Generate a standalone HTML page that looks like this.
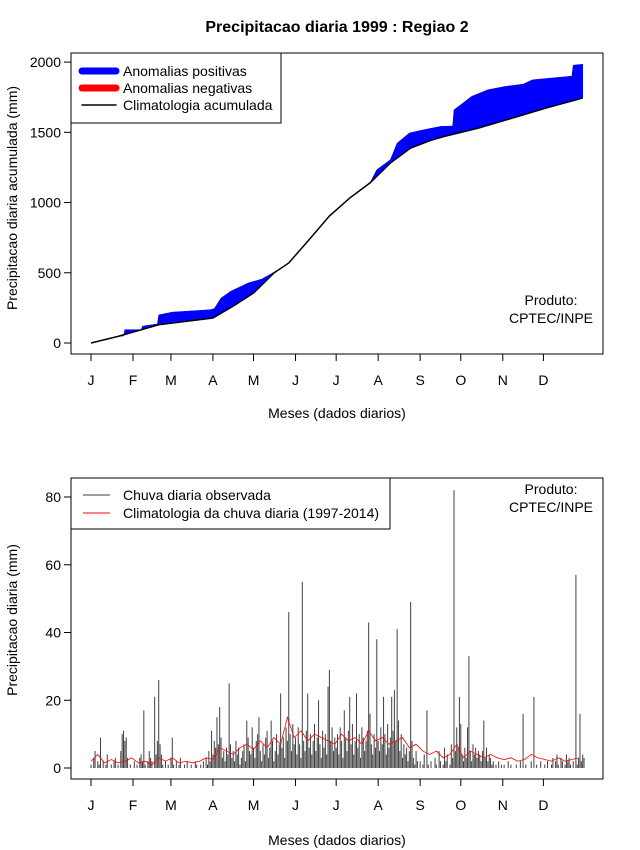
<!DOCTYPE html>
<html><head><meta charset="utf-8">
<style>
html,body{margin:0;padding:0;background:#fff;}
svg{display:block;font-family:"Liberation Sans",Arial,sans-serif;}
</style></head>
<body>
<svg id="chart" width="640" height="850" viewBox="0 0 640 850" xmlns="http://www.w3.org/2000/svg">
<rect width="640" height="850" fill="#fff"/>
<text x="337" y="32" text-anchor="middle" font-size="16" font-weight="bold">Precipitacao diaria 1999 : Regiao 2</text>
<g id="topPanel"></g>
<g id="botPanel"></g>
</svg>
<script>
// ---------- DATA ----------
const monthLabels = ["J","F","M","A","M","J","J","A","S","O","N","D"];
const monthStartDays = [1,32,60,91,121,152,182,213,244,274,305,335];
const topYTicks = [0,500,1000,1500,2000];
const botYTicks = [0,20,40,60,80];
// cumulative climatology (day, mm)
const climCumDays = [1,21,51,91,106,121,136,147,162,177,192,207,222,237,252,262,287,312,337,364];
const climCumVals = [0,47,130,178,263,356,498,570,735,904,1032,1140,1281,1388,1443,1471,1530,1601,1673,1744];
// cumulative observed (day, mm)
const obsCumDays = [1,21,25,26,38,39,46,50,51,61,89,92,97,104,117,127,135,147,162,177,192,207,212,222,227,236,247,259,268,269,282,294,307,320,327,356,357,364];
const obsCumVals = [0,47,50,95,95,120,130,135,200,220,237,245,320,368,427,455,498,570,735,904,1032,1140,1234,1305,1423,1495,1519,1542,1545,1660,1756,1803,1827,1843,1874,1900,1978,1985];
// daily observed rainfall (mm), day 1..365
const dailyObs = [
1,0,3,5,0,2,1,9,0,2,0,1,4,0,0,1,0,2,3,0,1,0,5,10,11,8,9,3,0,1,0,
0,2,0,1,0,3,4,2,17,1,0,2,5,3,2,0,21,4,8,26,7,4,1,0,2,0,1,0,
3,9,1,0,2,0,1,3,0,0,1,0,2,0,0,1,0,0,2,1,0,0,1,0,2,0,3,1,5,2,11,
4,8,6,15,7,18,9,3,5,2,6,4,25,7,3,5,2,8,4,6,1,3,5,7,2,14,9,5,4,12,
6,3,8,10,15,5,2,7,4,9,11,3,6,14,8,2,5,10,4,7,22,6,9,3,12,8,46,10,5,13,7,
9,4,12,7,3,55,8,5,11,22,6,10,4,8,13,5,9,20,7,3,11,6,10,4,24,29,8,12,5,9,
6,10,4,12,8,3,17,9,5,11,21,7,13,4,8,22,6,10,3,12,9,5,8,11,43,16,7,4,10,6,38,
8,5,12,7,21,10,4,13,6,9,21,11,23,8,41,14,5,10,3,7,4,6,2,5,49,8,3,1,5,2,0,
2,0,1,4,0,17,1,0,2,0,0,3,1,0,5,2,0,1,6,2,4,0,1,7,3,82,5,12,6,21,
13,4,2,6,3,12,33,5,2,7,4,6,3,5,4,2,5,14,3,6,2,4,3,1,2,0,1,0,2,0,1,
0,1,0,0,2,0,1,0,0,0,1,0,0,2,0,16,0,1,0,0,0,2,0,21,0,1,0,0,2,0,
0,1,0,2,0,0,1,3,0,2,4,1,0,3,2,0,1,4,2,3,1,0,2,0,57,1,3,16,2,4,3];
// daily climatology (mm), every 5 days starting day 1
const climDaily5 = [2,4,1.5,2.5,1.5,2,3,1.5,2,1,3,2,3,1.5,2,1.5,2,3,2.5,6,5,4,6,7,5.5,8,6,9,7,15,9,11,8,10,9,8,7,10,8,9,7,11,8,9,7,8,9,6,7,5,4,5,3,4,7,3,5,4,3,4,3,2.5,3,2,2.5,4,3,2.5,2,3,2,2.5,3];

// ---------- HELPERS ----------
const NS="http://www.w3.org/2000/svg";
function mk(parent,tag,attrs){const e=document.createElementNS(NS,tag);for(const k in attrs)e.setAttribute(k,attrs[k]);parent.appendChild(e);return e;}
const xDay = d => 91 + (d-1)*1.3545;
function drawPanel(g, box, yScale, yTicks, xLabelY, xTitleY, yTitle, yTitleCY){
  const r=mk(g,'rect',{x:box.x,y:box.y,width:box.w,height:box.h,fill:'none',stroke:'#000','stroke-width':1});
  
  
  const by=box.y+box.h;
  yTicks.forEach(t=>{
    const y=yScale(t);
    mk(g,'line',{x1:box.x-7,x2:box.x,y1:y,y2:y,stroke:'#000'});
    const tx=mk(g,'text',{x:box.x-10,y:y+5,'text-anchor':'end','font-size':14});
    tx.textContent=t;
    
    
  });
  monthStartDays.forEach((d,i)=>{
    const x=xDay(d);
    mk(g,'line',{x1:x,x2:x,y1:by,y2:by+7,stroke:'#000'});
    const tx=mk(g,'text',{x:x,y:xLabelY,'text-anchor':'middle','font-size':14});
    tx.textContent=monthLabels[i];
    
    
  });
  mk(g,'line',{x1:xDay(1),x2:xDay(335),y1:by,y2:by,stroke:'#000'});
  const xt=mk(g,'text',{x:337,y:xTitleY,'text-anchor':'middle','font-size':14});
  xt.textContent='Meses (dados diarios)';
  
  
  const yt=mk(g,'text',{x:0,y:0,'text-anchor':'middle','font-size':14,transform:`translate(17,${yTitleCY}) rotate(-90)`});
  yt.textContent=yTitle;
  
  
}
function produto(g,y){
  const a=mk(g,'text',{x:551,y:y,'text-anchor':'middle','font-size':14});a.textContent='Produto:';
  
  
  const b=mk(g,'text',{x:551,y:y+18,'text-anchor':'middle','font-size':14});b.textContent='CPTEC/INPE';
  
  
}

// ---------- TOP PANEL ----------
const topG=document.getElementById('topPanel');
const yTop = v => 343 - v*0.14045;
const obsPts = obsCumDays.map((d,i)=>[xDay(d),yTop(obsCumVals[i])]);
const climPts = climCumDays.map((d,i)=>[xDay(d),yTop(climCumVals[i])]);
const poly = obsPts.concat(climPts.slice().reverse()).map(p=>p.join(',')).join(' ');
const fill=mk(topG,'polygon',{points:poly,fill:'#0000ff',stroke:'#0000ff','stroke-width':0.5});


const cl=mk(topG,'polyline',{points:climPts.map(p=>p.join(',')).join(' '),fill:'none',stroke:'#000','stroke-width':1.5});


drawPanel(topG,{x:71,y:53,w:532,h:301},yTop,topYTicks,385,418,'Precipitacao diaria acumulada (mm)',198);
produto(topG,305);
const lg=mk(topG,'g',{});


mk(lg,'rect',{x:71,y:53,width:210,height:70,fill:'#fff',stroke:'#000'});
[['#0000ff',7,'Anomalias positivas',71],['#ff0000',7,'Anomalias negativas',88],['#000',1.5,'Climatologia acumulada',105]].forEach(e=>{
  mk(lg,'line',{x1:82,x2:116,y1:e[3],y2:e[3],stroke:e[0],'stroke-width':e[1],'stroke-linecap':'round'});
  const t=mk(lg,'text',{x:123,y:e[3]+5,'font-size':14});t.textContent=e[2];
  
  
});

// ---------- BOTTOM PANEL ----------
const botG=document.getElementById('botPanel');
const yBot = v => 768 - v*3.3875;
dailyObs.forEach((v,i)=>{
  const x=xDay(i+1);
  const b=mk(botG,'line',{x1:x,x2:x,y1:yBot(0),y2:yBot(v),stroke:'#404040','stroke-width':1});
  
  
});
const cd=mk(botG,'polyline',{points:climDaily5.map((v,i)=>xDay(1+5*i)+','+yBot(v)).join(' '),fill:'none',stroke:'#ff0000','stroke-width':0.8});


drawPanel(botG,{x:71,y:478,w:532,h:301},yBot,botYTicks,810,845,'Precipitacao diaria (mm)',620);
produto(botG,494);
const lg2=mk(botG,'g',{});


mk(lg2,'rect',{x:71,y:478,width:319,height:51,fill:'#fff',stroke:'#000'});
[['#404040','Chuva diaria observada',495],['#ff0000','Climatologia da chuva diaria (1997-2014)',513]].forEach(e=>{
  mk(lg2,'line',{x1:83,x2:110,y1:e[2],y2:e[2],stroke:e[0],'stroke-width':1});
  const t=mk(lg2,'text',{x:123,y:e[2]+5,'font-size':14});t.textContent=e[1];
  
  
});
</script>
</body></html>
